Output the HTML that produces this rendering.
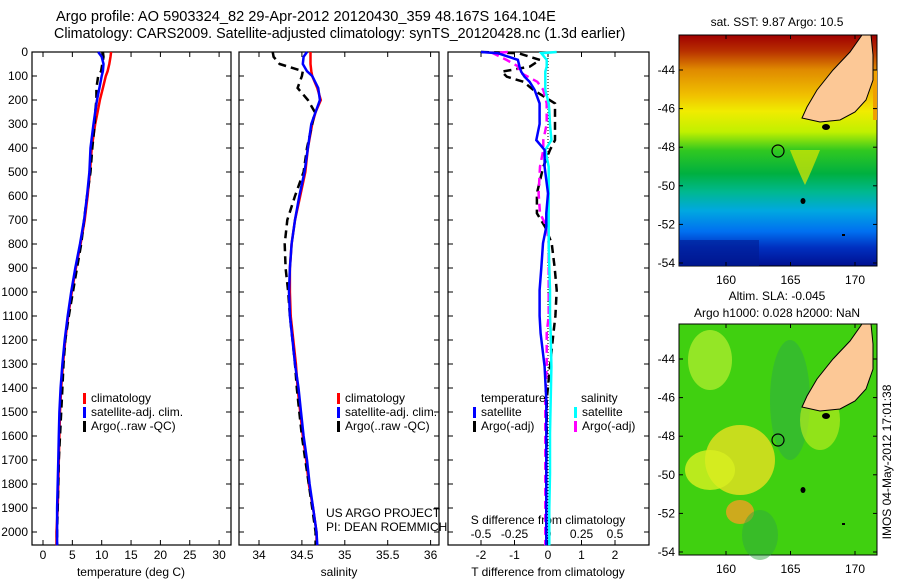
<!DOCTYPE html>
<html><head><meta charset="utf-8">
<style>
body{margin:0;background:#fff;}
svg{display:block;font-family:"Liberation Sans",sans-serif;}
text{font-size:12px;fill:#000;}
</style></head>
<body>
<svg id="chart" width="900" height="580" viewBox="0 0 900 580">
<text x="56" y="21" style="font-size:14.6px">Argo profile: AO 5903324_82 29-Apr-2012 20120430_359 48.167S 164.104E</text>
<text x="54" y="38" style="font-size:14.3px">Climatology: CARS2009. Satellite-adjusted climatology: synTS_20120428.nc (1.3d earlier)</text>
<g id="g"></g>
</svg>
<script>
const depthP = [0,20,50,80,100,150,200,250,300,400,500,600,700,800,900,1000,1100,1200,1300,1400,1500,1600,1700,1800,1900,2000,2055];
const tempClim = [11.6,11.5,11.3,11.0,10.7,10.2,9.7,9.3,8.9,8.3,8.0,7.6,7.1,6.4,5.6,4.9,4.3,3.8,3.4,3.1,2.9,2.8,2.7,2.6,2.5,2.3,2.3];
const tempSat = [9.4,10.0,10.3,10.2,10.0,9.6,9.2,8.9,8.6,8.1,7.9,7.5,7.0,6.3,5.5,4.8,4.2,3.7,3.3,3.0,2.8,2.7,2.6,2.5,2.4,2.4,2.4];
const tempArgo = [10.2,10.3,10.1,9.9,9.4,9.1,9.1,8.9,8.8,8.4,8.1,7.5,7.0,6.5,5.8,5.1,4.4,3.8,3.5,3.3,3.1,2.9,2.7,2.6,2.5,2.4,2.4];
const salClim = [34.60,34.60,34.60,34.61,34.62,34.68,34.72,34.66,34.62,34.57,34.54,34.48,34.42,34.38,34.36,34.36,34.37,34.40,34.43,34.45,34.48,34.51,34.55,34.58,34.63,34.67,34.67];
const salSat = [34.56,34.52,34.51,34.56,34.62,34.69,34.71,34.66,34.61,34.57,34.53,34.47,34.42,34.38,34.36,34.35,34.36,34.39,34.42,34.46,34.49,34.52,34.56,34.59,34.63,34.67,34.68];
const salArgo = [34.16,34.17,34.24,34.51,34.50,34.45,34.57,34.65,34.62,34.56,34.52,34.42,34.33,34.30,34.31,34.34,34.36,34.39,34.42,34.44,34.47,34.50,34.54,34.58,34.62,34.66,34.66];
const depthD = [0,5,33,61,82,103,124,158,214,242,300,367,408,478,589,672,728,797,900,992,1100,1172,1311,1450,1589,1756,1900,2055];
const diffTSat = [-2.0,-1.5,-0.9,-0.85,-0.8,-0.7,-0.55,-0.4,-0.25,-0.25,-0.25,-0.35,-0.1,-0.1,0.0,-0.05,-0.05,-0.15,-0.2,-0.25,-0.25,-0.22,-0.1,-0.05,-0.05,-0.05,-0.05,-0.05];
const diffTArgo = [-2.0,-0.88,-0.24,-0.54,-1.38,-1.23,-0.73,-0.44,0.21,0.21,0.21,0.21,0.06,-0.14,-0.33,-0.33,-0.09,0.11,0.2,0.26,0.22,0.16,0.06,-0.04,-0.04,-0.05,-0.05,-0.05];
const diffSSat = [0.065,-0.05,-0.01,-0.01,-0.02,-0.02,-0.02,-0.02,0.005,0.01,0.015,0.025,-0.02,0.005,0.005,0.005,0.005,0.005,0.01,0.015,0.015,0.02,0.025,0.02,0.015,0.015,0.01,0.01];
const diffSArgo = [-0.3,-0.41,-0.31,-0.22,-0.22,-0.15,-0.08,-0.035,-0.01,-0.01,-0.01,-0.035,-0.035,-0.06,-0.07,-0.06,-0.01,0.005,0.005,0.005,0.005,-0.01,-0.01,-0.02,-0.02,-0.02,-0.02,-0.02];
const depthTicks = [0,100,200,300,400,500,600,700,800,900,1000,1100,1200,1300,1400,1500,1600,1700,1800,1900,2000];
const tempTicks = [0,5,10,15,20,25,30];
const salTicks = [34,34.5,35,35.5,36];
const tdTicks = [-2,-1,0,1,2];
const sdTicks = [-0.5,-0.25,0,0.25,0.5];
const latTicks = [-44,-46,-48,-50,-52,-54];
const lonTicks = [160,165,170];

const NS='http://www.w3.org/2000/svg';
const G=document.getElementById('g');
function mk(tag,attrs,parent){const e=document.createElementNS(NS,tag);for(const k in attrs)e.setAttribute(k,attrs[k]);(parent||G).appendChild(e);return e;}
const yD=d=>52+d*0.24;
const yTop=52,yBot=545;
const xT=v=>43+v*5.87;
const xS=v=>259+(v-34)*85.8;
const xTD=v=>548+v*33.5;
const xSD=v=>548+v*134;

function panel(x0,x1,name){
  const r=mk('rect',{x:x0,y:yTop,width:x1-x0,height:yBot-yTop,fill:'#fff',stroke:'#000','stroke-width':1.2});
  
  
  depthTicks.forEach(d=>{mk('line',{x1:x0,x2:x0+5,y1:yD(d),y2:yD(d),stroke:'#000'});mk('line',{x1:x1,x2:x1-5,y1:yD(d),y2:yD(d),stroke:'#000'});});
}
function txt(x,y,s,name,anchor,extra){const t=mk('text',Object.assign({x:x,y:y,'text-anchor':anchor||'start'},extra||{}));t.textContent=s;
  
  return t;}
function xticks(vals,fx,labelY,name){
  vals.forEach(v=>{const x=fx(v);mk('line',{x1:x,x2:x,y1:yTop,y2:yTop+5,stroke:'#000'});mk('line',{x1:x,x2:x,y1:yBot,y2:yBot-5,stroke:'#000'});
    if(labelY){txt(x,labelY,String(v),name,'middle');}});
}
function line(xs,ds,fx,color,dash,name,w){
  const pts=xs.map((v,i)=>fx(v).toFixed(1)+','+yD(ds[i]).toFixed(1)).join(' ');
  const p=mk('polyline',{points:pts,fill:'none',stroke:color,'stroke-width':w||2.5,'stroke-dasharray':dash||'none'});
  
  
}
function legend(x,y,items,prefix){items.forEach((it,i)=>{const yy=y+i*14;const m=mk('rect',{x:x,y:yy-9,width:3,height:11,fill:it[0]});
  
  
  txt(x+8,yy,it[1],prefix+'-label');});}

// panel 1
panel(32,231,'temperature-panel');
depthTicks.forEach(d=>{txt(28,yD(d)+4,String(d),'depth-tick-label','end');});
xticks(tempTicks,xT,559,'temperature-tick-label');
line(tempClim,depthP,xT,'#f00',null,'temp-climatology-line');
line(tempArgo,depthP,xT,'#000','8,5','temp-argo-line');
line(tempSat,depthP,xT,'#00f',null,'temp-satellite-line');
txt(131,576,'temperature (deg C)','temperature-axis-title','middle');
legend(83,402,[['#f00','climatology'],['#00f','satellite-adj. clim.'],['#000','Argo(..raw -QC)']],'temp-legend-entry');

// panel 2
panel(239,439,'salinity-panel');
xticks(salTicks,xS,559,'salinity-tick-label');
line(salClim,depthP,xS,'#f00',null,'sal-climatology-line');
line(salArgo,depthP,xS,'#000','8,5','sal-argo-line');
line(salSat,depthP,xS,'#00f',null,'sal-satellite-line');
txt(339,576,'salinity','salinity-axis-title','middle');
legend(337,402,[['#f00','climatology'],['#00f','satellite-adj. clim.'],['#000','Argo(..raw -QC)']],'sal-legend-entry');
txt(326,517,'US ARGO PROJECT','project-credit');
txt(326,531,'PI: DEAN ROEMMICH','pi-credit');

// panel 3
panel(448,649,'difference-panel');
mk('line',{x1:548,x2:548,y1:yTop,y2:yBot,stroke:'#000','stroke-dasharray':'1,2'});
xticks(tdTicks,xTD,559,'t-diff-tick-label');
sdTicks.forEach(v=>txt(xSD(v),538,String(v),'s-diff-tick-label','middle'));
txt(548,524,'S difference from climatology','s-diff-axis-title','middle');
txt(548,576,'T difference from climatology','t-diff-axis-title','middle');
line(diffTArgo,depthD,xTD,'#000','8,5','tdiff-argo-line');
line(diffSArgo,depthD,xSD,'#f0f','8,5','sdiff-argo-line');
line(diffSSat,depthD,xSD,'#0ff',null,'sdiff-satellite-line');
line(diffTSat,depthD,xTD,'#00f',null,'tdiff-satellite-line');
txt(481,402,'temperature','diff-legend-temperature-heading');
txt(581,402,'salinity','diff-legend-salinity-heading');
legend(473,416,[['#00f','satellite'],['#000','Argo(-adj)']],'tdiff-legend-entry');
legend(574,416,[['#0ff','satellite'],['#f0f','Argo(-adj)']],'sdiff-legend-entry');

// maps
const defs=mk('defs',{});
const g1=mk('linearGradient',{id:'sst',x1:0,y1:0,x2:0,y2:1},defs);
[[0,'#a00000'],[0.07,'#b83000'],[0.15,'#e08a00'],[0.26,'#f0c000'],[0.33,'#f0ec00'],[0.42,'#c0f000'],[0.5,'#30c820'],[0.6,'#00b040'],[0.68,'#00b890'],[0.76,'#00a8e0'],[0.85,'#0070f0'],[0.92,'#0030c0'],[1,'#001090']].forEach(s=>mk('stop',{offset:s[0],'stop-color':s[1]},g1));
const lon=v=>726+(v-160)*12.9;
const latY=(v,off)=>70+off+(-44-v)*19.3;
function map(off,fill,name,extra){
  const r=mk('rect',{x:679,y:35+off,width:198,height:231,fill:fill,stroke:'#000'});
  
  
  extra(off);
  const land=mk('polygon',{points:[[862,35],[871,35],[873,55],[873,80],[866,100],[855,112],[840,120],[820,122],[802,118],[807,107],[817,90],[833,70],[850,52]].map(p=>p[0]+','+(p[1]+off)).join(' '),fill:'#fcc896',stroke:'#000','stroke-width':1});
  
  
  mk('ellipse',{cx:826,cy:127+off,rx:4,ry:3,fill:'#000'});
  mk('ellipse',{cx:803,cy:201+off,rx:2.5,ry:3,fill:'#000'});
  mk('rect',{x:842,y:234+off,width:3,height:2,fill:'#000'});
  const c=mk('circle',{cx:778,cy:151+off,r:6,fill:'none',stroke:'#000','stroke-width':1.2});
  
  
  latTicks.forEach(v=>{const y=latY(v,off);mk('line',{x1:679,x2:683,y1:y,y2:y,stroke:'#000'});mk('line',{x1:877,x2:873,y1:y,y2:y,stroke:'#000'});txt(675,y+4,String(v),'map-lat-label','end');});
  lonTicks.forEach(v=>{const x=lon(v);mk('line',{x1:x,x2:x,y1:35+off,y2:39+off,stroke:'#000'});mk('line',{x1:x,x2:x,y1:266+off,y2:262+off,stroke:'#000'});txt(x,284+off,String(v),'map-lon-label','middle');});
}
map(0,'url(#sst)','sst-map',off=>{
  mk('path',{d:'M790,150 Q800,175 805,185 Q812,170 820,150 Z',fill:'#e0e800',opacity:0.7});
  mk('rect',{x:873,y:70,width:4,height:50,fill:'#f0a000'});
  mk('rect',{x:679,y:240,width:80,height:26,fill:'#001a90',opacity:0.6});
});
map(289,'#40d010','sla-map',off=>{
  mk('ellipse',{cx:740,cy:460,rx:35,ry:35,fill:'#e8e020',opacity:0.8});
  mk('ellipse',{cx:740,cy:512,rx:14,ry:12,fill:'#f0a020',opacity:0.8});
  mk('ellipse',{cx:710,cy:470,rx:25,ry:20,fill:'#d8f020',opacity:0.8});
  mk('ellipse',{cx:710,cy:360,rx:22,ry:30,fill:'#b8f030',opacity:0.7});
  mk('ellipse',{cx:790,cy:400,rx:20,ry:60,fill:'#30b040',opacity:0.6});
  mk('ellipse',{cx:820,cy:420,rx:20,ry:30,fill:'#c8f020',opacity:0.6});
  mk('ellipse',{cx:760,cy:535,rx:18,ry:25,fill:'#30a840',opacity:0.5});
});
txt(777,26,'sat. SST: 9.87 Argo: 10.5','sst-map-title','middle');
txt(777,300,'Altim. SLA: -0.045','sla-map-title','middle');
txt(777,317,'Argo h1000: 0.028 h2000: NaN','sla-map-subtitle','middle');
txt(0,0,'IMOS 04-May-2012 17:01:38','timestamp-label','middle',{transform:'translate(891,462) rotate(-90)'});
</script>
</body></html>
